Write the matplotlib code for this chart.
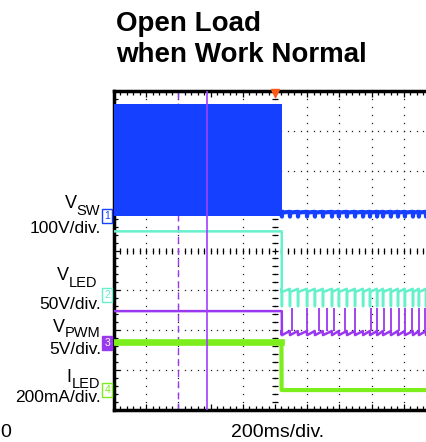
import numpy as np
import matplotlib.pyplot as plt
from matplotlib.transforms import blended_transform_factory

plt.rcParams['font.family'] = ['Liberation Sans', 'DejaVu Sans']

# ---- scope settings (200 ms/div, trigger at centre) ----
time_per_div = 200          # ms
t_open = 40                 # ms, load opened here
cursor_solid_ms = -425
cursor_dash_ms = -600

# channel: ground offset (div from bottom), volts (or mA) per div
ch_offset = [4.87, 2.88, 1.68, 0.5]
ch_scale = [100, 50, 5, 200]
ch_color = ['#1540ff', '#66f0cc', '#9a38f0', '#7cee1c']

# levels
vsw_high, vsw_low = 280, 0
vsw_after_lo, vsw_after_hi, vsw_dip = 8, 10, -2
vled_before = 80
vled_after_lo, vled_after_hi, vled_spike = 4, 8, -14
vpwm_before = 4.0
vpwm_after_lo, vpwm_after_hi, vpwm_spike = 1.0, 1.5, 4.4
iled_before, iled_after = 240, 0

# ripple / spike instants after the open (ms)
ripple_ms = [43, 93, 143, 199, 248, 298, 354, 397, 447, 497, 547, 590,
             634, 671, 720, 764, 807, 857, 894, 938]
pwm_spike_ms = [106, 199, 273, 323, 366, 435, 497, 596, 634, 677, 720,
                770, 807, 851, 894, 932]


def to_div(ch, v):
    return ch_offset[ch] + np.asarray(v, dtype=float) / ch_scale[ch]


def ripple(t_start, v_start, lo, hi, spike):
    t, v = [t_start], [v_start]
    for s in ripple_ms:
        t += [s - 1.5, s, s + 1.5]
        v += [hi, spike, lo]
    t.append(1000)
    v.append(hi)
    return t, v


fig = plt.figure(figsize=(4.27, 4.42), dpi=100)
ax = fig.add_axes([114 / 427, 32 / 442, 322 / 427, 319 / 442])
ax.set_xlim(-1000, 1000)
ax.set_ylim(0, 8)

# ---- graticule ----
dot_kw = dict(ls='none', marker='s', ms=0.9, color='#222222', mew=0)
for k in range(1, 10):
    if k == 3:
        continue
    x = -1000 + k * time_per_div
    ax.plot(np.full(41, x), np.linspace(0, 8, 41), **dot_kw)
for k in range(1, 8):
    ax.plot(np.linspace(-1000, 1000, 51), np.full(51, k), **dot_kw)
# centre cross with small ticks
ax.plot(np.linspace(-1000, 1000, 51), np.full(51, 4), ls='none',
        marker='|', ms=4, mew=0.9, color='black')
ax.plot(np.full(41, 0), np.linspace(0, 8, 41), ls='none',
        marker='_', ms=4, mew=0.9, color='black')

# ---- traces ----
# VSW: switching envelope then quiet
ax.fill_between([-1000, t_open + 2], to_div(0, vsw_low), to_div(0, vsw_high),
                color=ch_color[0], lw=0, zorder=3)
t, v = ripple(t_open + 2, vsw_after_hi, vsw_after_lo, vsw_after_hi, vsw_dip)
ax.plot(t, to_div(0, v), color=ch_color[0], lw=3.0, zorder=3)

# VLED
t, v = ripple(t_open + 2, vled_after_lo, vled_after_lo, vled_after_hi, vled_spike)
ax.plot([-1000, t_open + 2] + t, to_div(1, [vled_before, vled_before] + v),
        color=ch_color[1], lw=1.8, zorder=3)

# VPWM
t, v = ripple(t_open + 3, vpwm_after_lo, vpwm_after_lo, vpwm_after_hi, vpwm_after_lo)
ax.plot([-1000, t_open + 2] + t, to_div(2, [vpwm_before, vpwm_before] + v),
        color=ch_color[2], lw=1.8, zorder=3)
ax.vlines(pwm_spike_ms, to_div(2, vpwm_after_hi), to_div(2, vpwm_spike),
          color=ch_color[2], lw=1.3, zorder=3)

# ILED
ax.plot([-1000, t_open, t_open + 1, 1000],
        to_div(3, [iled_before, iled_before, iled_after, iled_after]),
        color=ch_color[3], lw=3.0, zorder=3)
ax.plot([-1000, t_open], to_div(3, [iled_before] * 2), color=ch_color[3],
        lw=4.8, zorder=3)

# cursors and trigger marker
ax.axvline(cursor_solid_ms, color='#a040ff', lw=1.2, zorder=4)
ax.axvline(cursor_dash_ms, color='#9a38f0', lw=1.0, ls=(0, (5, 3)), zorder=2)
ax.plot([0], [7.95], marker='v', ms=6, color='#ff5a14', clip_on=False, zorder=6)

# ---- frame ----
for side in ['left', 'top', 'bottom']:
    ax.spines[side].set_linewidth(2.5)
ax.spines['right'].set_visible(False)
ax.set_xticks(np.arange(-1000, 1001, time_per_div))
ax.set_xticks(np.arange(-1000, 1001, 40), minor=True)
ax.set_yticks(np.arange(0, 9, 1))
ax.set_yticks(np.arange(0, 8.01, 0.2), minor=True)
ax.tick_params(which='both', direction='in', top=True, bottom=True, left=True,
               right=False, labelbottom=False, labelleft=False, width=0.9)
ax.tick_params(which='major', length=4)
ax.tick_params(which='minor', length=3)

# channel tags
tr = blended_transform_factory(ax.transAxes, ax.transData)
for i in range(4):
    filled = i == 2
    ax.text(-0.012, ch_offset[i], str(i + 1), transform=tr, ha='right', va='center',
            fontsize=7.5, color='white' if filled else ch_color[i],
            bbox=dict(boxstyle='square,pad=0.2', fc=ch_color[i] if filled else 'white',
                      ec=ch_color[i], lw=1.0), clip_on=False, zorder=7)


# ---- text ----
def fx(px):
    return px / 427


def fy(py):
    return 1 - py / 442


fig.text(fx(116), fy(31), 'Open Load', fontsize=20, fontweight='bold', va='baseline')
fig.text(fx(116), fy(62), 'when Work Normal', fontsize=20, fontweight='bold', va='baseline')

renderer = fig.canvas.get_renderer()
names = [('V', 'SW'), ('V', 'LED'), ('V', 'PWM'), ('I', 'LED')]
name_right = [100, 97, 101, 100]
name_y = [208, 280, 332, 382]
sub_drop = [7, 7, 5, 6]
scales = ['100V/div.', '50V/div.', '5V/div.', '200mA/div.']
scale_y = [233, 309, 354, 402]
for (main, sub), xr, yn, dy, s, ys in zip(names, name_right, name_y, sub_drop,
                                          scales, scale_y):
    st = fig.text(fx(xr), fy(yn + dy), sub, fontsize=10.5, ha='right', va='baseline')
    x0 = st.get_window_extent(renderer).x0
    fig.text(x0 / 427, fy(yn), main, fontsize=13, ha='right', va='baseline')
    fig.text(fx(101), fy(ys), s, fontsize=12.5, ha='right', va='baseline')

fig.text(fx(278), fy(437), '200ms/div.', fontsize=14, ha='center', va='baseline')
fig.text(fx(0), fy(437), '0', fontsize=14, ha='left', va='baseline')

fig.savefig('out.png', dpi=100)
